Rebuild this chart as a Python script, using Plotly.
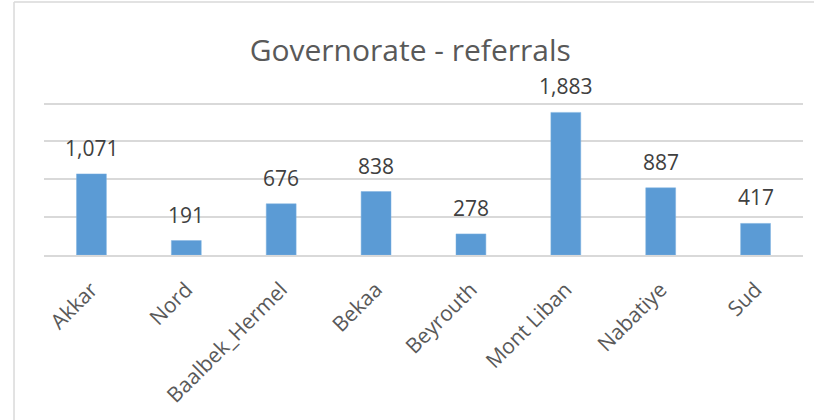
import plotly.graph_objects as go

categories = ["Akkar", "Nord", "Baalbek_Hermel", "Bekaa", "Beyrouth", "Mont Liban", "Nabatiye", "Sud"]
referrals = [1071, 191, 676, 838, 278, 1883, 887, 417]
labels = [f"{v:,}" for v in referrals]

fig = go.Figure()
fig.add_trace(go.Bar(
    x=categories, y=referrals,
    marker=dict(color="#5B9BD5", line=dict(color="#7FB2E0", width=0.5)),
    hoverinfo="x+y",
))

for c, v, t in zip(categories, referrals, labels):
    fig.add_annotation(x=c, y=v, text=t, showarrow=False, yanchor="bottom",
                       yshift=10, font=dict(family="Open Sans", size=21, color="#404040"))

# chart-area border (top and left edges visible; right/bottom are outside the crop)
fig.add_shape(type="line", xref="paper", yref="paper",
              x0=-0.0395, x1=1.1, y0=1.653, y1=1.653,
              line=dict(color="#D9D9D9", width=1.5), layer="below")
fig.add_shape(type="line", xref="paper", yref="paper",
              x0=-0.0395, x1=-0.0395, y0=-1.2, y1=1.653,
              line=dict(color="#D9D9D9", width=1.5), layer="below")

fig.update_layout(
    width=814, height=420,
    margin=dict(l=44, r=11, t=102, b=165),
    paper_bgcolor="white", plot_bgcolor="white",
    bargap=0.685,
    showlegend=False,
    title=dict(text="Governorate - referrals", x=0.504, xanchor="center",
               y=1 - 50 / 420, yanchor="middle",
               font=dict(family="Open Sans", size=30, color="#595959")),
    xaxis=dict(tickangle=-45, tickfont=dict(family="Open Sans", size=21, color="#595959"),
               showline=True, linecolor="#D9D9D9", linewidth=2, ticks="",
               showgrid=False, ticklabelstandoff=12),
    yaxis=dict(range=[0, 2020], tickvals=[500, 1000, 1500, 2000], showticklabels=False, showgrid=True,
               gridcolor="#D9D9D9", gridwidth=1.5, zeroline=False, ticks=""),
)

fig.write_html("out.html", config={"displayModeBar": False},
               post_script="document.body.style.margin='0';document.body.style.overflow='hidden';"
                           "document.documentElement.style.overflow='hidden';")
